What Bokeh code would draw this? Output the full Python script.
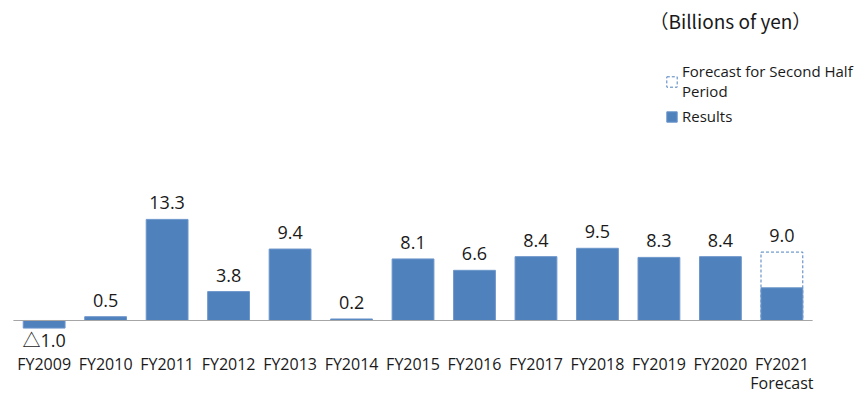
from bokeh.plotting import figure
from bokeh.models import ColumnDataSource, Legend, LegendItem, Range1d, Label
from bokeh.embed import file_html
from bokeh.resources import INLINE
from bokeh.core.properties import value

# ---- data ----
years = ["FY2009", "FY2010", "FY2011", "FY2012", "FY2013", "FY2014", "FY2015",
         "FY2016", "FY2017", "FY2018", "FY2019", "FY2020", "FY2021\nForecast"]
results = [-1.0, 0.5, 13.3, 3.8, 9.4, 0.2, 8.1, 6.6, 8.4, 9.5, 8.3, 8.4, 4.3]
forecast_index = [12]
forecast_total = [9.0]
totals = [-1.0, 0.5, 13.3, 3.8, 9.4, 0.2, 8.1, 6.6, 8.4, 9.5, 8.3, 8.4, 9.0]
value_labels = ["△1.0", "0.5", "13.3", "3.8", "9.4", "0.2", "8.1", "6.6",
                "8.4", "9.5", "8.3", "8.4", "9.0"]
unit_label = "（Billions of yen）"

FONT = "'Open Sans', 'Noto Sans CJK JP'"
BLUE = "#4F81BD"
TXT = "#1a1a1a"

idx = list(range(len(years)))

p = figure(x_range=Range1d(-0.71, 13.36), y_range=Range1d(-10.0, 42.1),
           width=865, height=396,
           output_backend="svg", toolbar_location=None,
           min_border_left=0, min_border_right=0, min_border_bottom=0,
           min_border_top=0)

p.background_fill_color = None
p.border_fill_color = "white"
p.outline_line_color = None
p.grid.visible = False
p.axis.visible = False

# forecast outline (full-year)
fsrc = ColumnDataSource(dict(x=forecast_index, top=forecast_total))
r_fc = p.vbar(x="x", top="top", bottom=0, width=0.68, source=fsrc,
              fill_color="white", line_color=BLUE, line_dash="3 2", line_width=1)

# results
src = ColumnDataSource(dict(x=idx, top=results))
r_res = p.vbar(x="x", top="top", bottom=0, width=0.68, source=src,
               fill_color=BLUE, line_color="#6D96CA", line_width=1)

# zero baseline across the categories
p.segment(x0=[idx[0] - 0.5], x1=[idx[-1] + 0.5], y0=[0], y1=[0],
          line_color="#A6A6A6", line_width=1.2)

# category labels under the baseline (first and second lines)
first_lines = [y.split("\n")[0] for y in years]
second = [(i, y.split("\n")[1]) for i, y in zip(idx, years) if "\n" in y]
p.text(x=idx, y=[0] * len(idx), text=first_lines, text_align="center",
       text_baseline="alphabetic", y_offset=44,
       text_font=value(FONT), text_font_size="16px", text_color=TXT)
p.text(x=[s[0] for s in second], y=[0] * len(second), text=[s[1] for s in second],
       text_align="center", text_baseline="alphabetic", y_offset=63,
       text_font=value(FONT), text_font_size="16px", text_color=TXT)

# value labels
pos = [(i, t, l) for i, t, l in zip(idx, totals, value_labels) if t >= 0]
neg = [(i, t, l) for i, t, l in zip(idx, totals, value_labels) if t < 0]
p.text(x=[a[0] for a in pos], y=[a[1] for a in pos], text=[a[2] for a in pos],
       text_align="center", text_baseline="bottom", y_offset=-10,
       text_font=value(FONT), text_font_size="18px", text_color=TXT)
p.text(x=[a[0] for a in neg], y=[a[1] for a in neg], text=[a[2] for a in neg],
       text_align="center", text_baseline="top", y_offset=0,
       text_font=value(FONT), text_font_size="18px", text_color=TXT)

legend = Legend(items=[
    LegendItem(label="Forecast for Second Half\nPeriod", renderers=[r_fc]),
    LegendItem(label="Results", renderers=[r_res]),
], location=(665, 270))
legend.label_text_font = FONT
legend.label_text_font_size = "15px"
legend.label_text_color = TXT
legend.glyph_width = 13
legend.glyph_height = 13
legend.label_standoff = 4
legend.spacing = 5
legend.padding = 0
legend.margin = 0
legend.border_line_color = None
legend.background_fill_alpha = 0
p.add_layout(legend)

p.add_layout(Label(x=649, y=376, x_units="screen", y_units="screen", text=unit_label,
                   text_font="'Noto Sans CJK JP'", text_font_size="19px", text_color=TXT,
                   text_baseline="middle"))

open("out.html", "w").write(file_html(p, INLINE))
